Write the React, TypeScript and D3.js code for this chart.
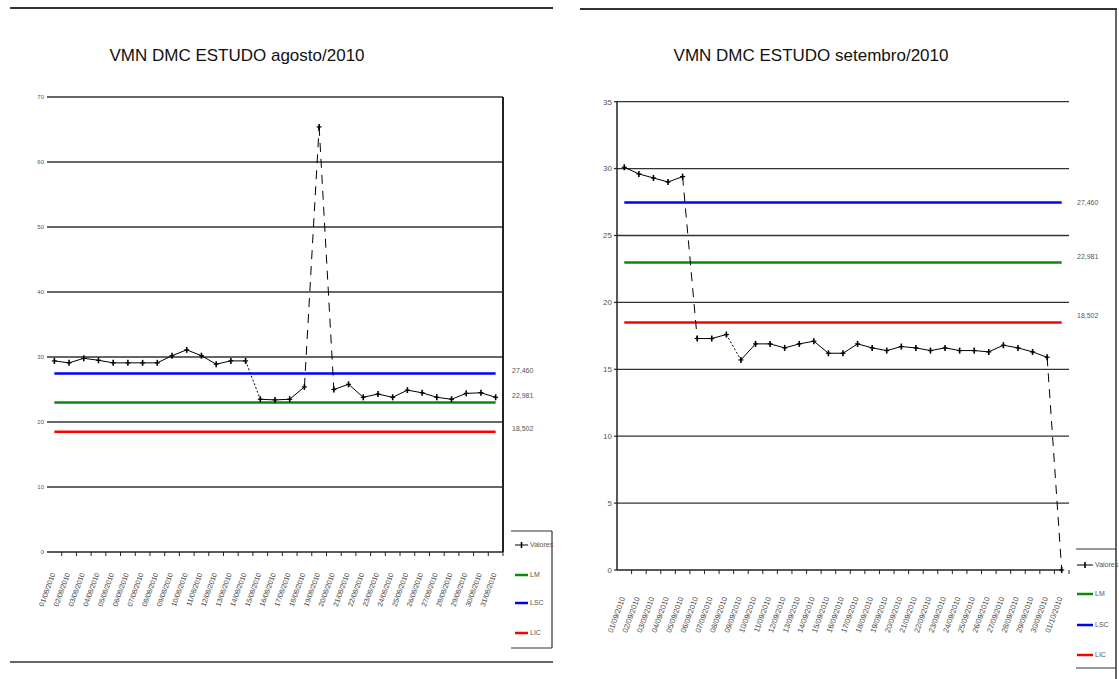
import React from "react";
import * as d3 from "d3";

// ---------- DATA ----------
const augDays: string[] = Array.from({ length: 31 }, (_, i) => `${String(i + 1).padStart(2, "0")}/08/2010`);
const augValues: number[] = [
  29.4, 29.1, 29.8, 29.5, 29.1, 29.1, 29.1, 29.1, 30.2, 31.1, 30.2, 28.9, 29.4, 29.4,
  23.5, 23.4, 23.5, 25.4, 65.4, 25.0, 25.8, 23.8, 24.3, 23.8, 24.9, 24.5, 23.8, 23.5,
  24.4, 24.5, 23.8,
];
const sepDays: string[] = [
  ...Array.from({ length: 30 }, (_, i) => `${String(i + 1).padStart(2, "0")}/09/2010`),
  "01/10/2010",
];
const sepValues: number[] = [
  30.1, 29.6, 29.3, 29.0, 29.4, 17.3, 17.3, 17.6, 15.7, 16.9, 16.9, 16.6, 16.9, 17.1,
  16.2, 16.2, 16.9, 16.6, 16.4, 16.7, 16.6, 16.4, 16.6, 16.4, 16.4, 16.3, 16.8, 16.6,
  16.3, 15.9, 0,
];
const LSC = 27.46;
const LM = 22.981;
const LIC = 18.502;
const limitLabels = ["27,460", "22,981", "18,502"];
const leftTicks = [0, 10, 20, 30, 40, 50, 60, 70];
const rightTicks = [0, 5, 10, 15, 20, 25, 30, 35];
const legendNames = ["Valores", "LM", "LSC", "LIC"];
const titles = ["VMN DMC ESTUDO agosto/2010", "VMN DMC ESTUDO setembro/2010"];

const BLUE = "#0000ff";
const GREEN = "#0a8a0a";
const RED = "#ff0000";
const GRID = "#333";
const NARROW = "'Liberation Sans Narrow', 'Liberation Sans', Arial, sans-serif";
const SANS = "'Liberation Sans', Arial, sans-serif";

type PanelProps = {
  cats: string[];
  values: number[];
  ticks: number[];
  x0: number;
  x1: number;
  yTop: number;
  yBottom: number;
  yMax: number;
  showYAxis: boolean;
  rightBorder: boolean;
  axisEnd: number;
  yLabelX: number;
  yLabelSize: number;
  limitLabelX: number;
  limitLabelDy: number[];
  labelY: number;
  labelSize: number;
};

function Panel(p: PanelProps) {
  const x = d3.scaleBand<string>().domain(p.cats).range([p.x0, p.x1]).padding(0);
  const y = d3.scaleLinear().domain([0, p.yMax]).range([p.yBottom, p.yTop]);
  const cx = (c: string) => (x(c) as number) + x.bandwidth() / 2;
  const first = cx(p.cats[0]);
  const last = cx(p.cats[p.cats.length - 1]);
  const segs = p.values.slice(1).map((v, i) => {
    const xa = cx(p.cats[i]);
    const ya = y(p.values[i]);
    const xb = cx(p.cats[i + 1]);
    const yb = y(v);
    const dy = Math.abs(yb - ya);
    const dash = dy > 100 ? "9,7" : dy > 20 ? "2,2" : undefined;
    return { xa, ya, xb, yb, dash };
  });
  const limits = [
    { v: LSC, c: BLUE },
    { v: LM, c: GREEN },
    { v: LIC, c: RED },
  ];
  return (
    <g>
      {p.ticks.map((t) => (
        <g key={t}>
          {t > 0 && (
            <line x1={p.x0} x2={p.x1} y1={y(t)} y2={y(t)} stroke={GRID} strokeWidth={1.3} />
          )}
          <text
            x={p.yLabelX}
            y={y(t)}
            dy="0.35em"
            textAnchor="end"
            fontSize={p.yLabelSize}
            fontFamily={NARROW}
            fill="#555"
          >
            {t}
          </text>
          {p.showYAxis && (
            <line x1={p.x0 - 3} x2={p.x0} y1={y(t)} y2={y(t)} stroke={GRID} strokeWidth={1.3} />
          )}
        </g>
      ))}
      {/* x axis */}
      <line x1={p.x0} x2={p.axisEnd} y1={p.yBottom} y2={p.yBottom} stroke="#222" strokeWidth={1.5} />
      {p.cats.map((c) => (
        <line
          key={c}
          x1={(x(c) as number) + x.bandwidth()}
          x2={(x(c) as number) + x.bandwidth()}
          y1={p.yBottom}
          y2={p.yBottom + 4}
          stroke="#222"
          strokeWidth={1}
        />
      ))}
      {p.showYAxis && (
        <line x1={p.x0} x2={p.x0} y1={p.yTop} y2={p.yBottom} stroke="#222" strokeWidth={1.5} />
      )}
      {p.rightBorder && (
        <line x1={p.x1} x2={p.x1} y1={p.yTop} y2={p.yBottom} stroke="#222" strokeWidth={2} />
      )}
      {/* control limits */}
      {limits.map((l, i) => (
        <g key={i}>
          <line x1={first} x2={last} y1={y(l.v)} y2={y(l.v)} stroke={l.c} strokeWidth={2.5} />
          <text
            x={p.limitLabelX}
            y={y(l.v) + p.limitLabelDy[i]}
            dy="0.35em"
            fontSize={7}
            fontFamily={NARROW}
            fill="#555"
          >
            {limitLabels[i]}
          </text>
        </g>
      ))}
      {/* data line */}
      {segs.map((s, i) => (
        <line
          key={i}
          x1={s.xa}
          y1={s.ya}
          x2={s.xb}
          y2={s.yb}
          stroke="#000"
          strokeWidth={1}
          strokeDasharray={s.dash}
        />
      ))}
      {p.values.map((v, i) => (
        <g key={i} transform={`translate(${cx(p.cats[i])},${y(v)})`}>
          <line x1={0} x2={0} y1={-3} y2={3} stroke="#000" strokeWidth={1.6} />
          <line x1={-2.5} x2={2.5} y1={0} y2={0} stroke="#000" strokeWidth={1.2} />
        </g>
      ))}
      {/* x labels */}
      {p.cats.map((c) => (
        <text
          key={c}
          transform={`translate(${cx(c) + 1},${p.labelY}) rotate(-70)`}
          textAnchor="end"
          fontSize={p.labelSize}
          fontFamily={NARROW}
          fill="#444"
        >
          {c}
        </text>
      ))}
    </g>
  );
}

function Legend({ x, rows, lineLen }: { x: number; rows: number[]; lineLen: number }) {
  const colors = ["#000", GREEN, BLUE, RED];
  return (
    <g>
      {rows.map((ry, i) => (
        <g key={i}>
          <line x1={x + 4} x2={x + 4 + lineLen} y1={ry} y2={ry} stroke={colors[i]} strokeWidth={i === 0 ? 1 : 2.5} />
          {i === 0 && (
            <g transform={`translate(${x + 4 + lineLen / 2},${ry})`}>
              <line x1={0} x2={0} y1={-3} y2={3} stroke="#000" strokeWidth={1.6} />
            </g>
          )}
          <text x={x + 6 + lineLen} y={ry} dy="0.35em" fontSize={7} fontFamily={NARROW} fill="#555">
            {legendNames[i]}
          </text>
        </g>
      ))}
    </g>
  );
}

export default function App() {
  return (
    <svg
      width={1119}
      height={679}
      style={{ position: "absolute", left: 0, top: 0, background: "#fff" }}
    >
      <rect width={1119} height={679} fill="#fff" />
      {/* frames */}
      <line x1={10} x2={553} y1={8} y2={8} stroke="#333" strokeWidth={2} />
      <line x1={10} x2={553} y1={662} y2={662} stroke="#333" strokeWidth={1.5} />
      <line x1={580} x2={1117} y1={9} y2={9} stroke="#333" strokeWidth={2} />
      <line x1={1116} x2={1116} y1={9} y2={679} stroke="#333" strokeWidth={1.5} />

      <text x={237} y={61} textAnchor="middle" fontSize={17} fontFamily={SANS} fill="#111">
        {titles[0]}
      </text>
      <text x={811} y={61} textAnchor="middle" fontSize={17} fontFamily={SANS} fill="#111">
        {titles[1]}
      </text>

      <Panel
        cats={augDays}
        values={augValues}
        ticks={leftTicks}
        x0={47}
        x1={503}
        yTop={97}
        yBottom={552}
        yMax={70}
        showYAxis={false}
        rightBorder={true}
        axisEnd={503}
        yLabelX={44}
        yLabelSize={6}
        limitLabelX={512}
        limitLabelDy={[-3, -7, -3]}
        labelY={574}
        labelSize={7}
      />
      <Panel
        cats={sepDays}
        values={sepValues}
        ticks={rightTicks}
        x0={617}
        x1={1069}
        yTop={101.7}
        yBottom={570}
        yMax={35}
        showYAxis={true}
        rightBorder={false}
        axisEnd={1062}
        yLabelX={612}
        yLabelSize={8}
        limitLabelX={1077}
        limitLabelDy={[0, -6, -7]}
        labelY={598}
        labelSize={7.5}
      />

      {/* legends */}
      <g>
        <line x1={511} x2={552} y1={531} y2={531} stroke="#333" strokeWidth={1.2} />
        <line x1={552} x2={552} y1={531} y2={648} stroke="#333" strokeWidth={1.2} />
        <line x1={511} x2={552} y1={648} y2={648} stroke="#333" strokeWidth={1.2} />
        <Legend x={511} rows={[545, 575, 603, 633]} lineLen={13} />
      </g>
      <g>
        <line x1={1076} x2={1116} y1={549} y2={549} stroke="#333" strokeWidth={1.2} />
        <line x1={1076} x2={1116} y1={668} y2={668} stroke="#333" strokeWidth={1.2} />
        <Legend x={1073} rows={[565, 594, 625, 655]} lineLen={16} />
      </g>
    </svg>
  );
}
